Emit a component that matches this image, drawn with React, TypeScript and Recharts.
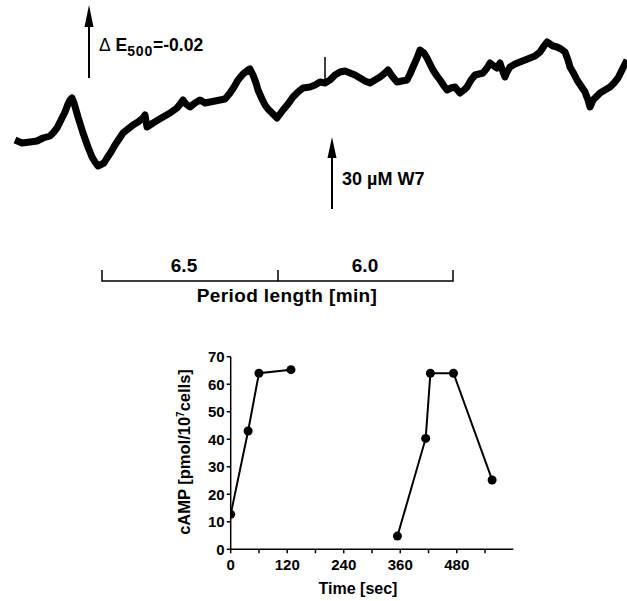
import { LineChart, Line, XAxis, YAxis } from "recharts"

// top trace: extinction at 500 nm (arbitrary units, higher = up), time in arbitrary units
const traceT = [
  15, 22, 30, 37, 43, 50, 53, 57, 60, 65, 68, 70, 72, 74, 78, 83, 88, 92, 95, 98, 100, 104, 107, 111, 115, 119, 123,
  128, 133, 138, 143, 145, 147, 150, 153, 158, 163, 170, 177, 181, 183, 186, 190, 195, 200, 205, 210, 215, 220, 225,
  230, 234, 238, 243, 248, 250, 253, 256, 258, 262, 265, 268, 272, 277, 280, 283, 288, 293, 298, 303, 310, 315, 320,
  325, 330, 335, 340, 345, 350, 355, 360, 365, 370, 375, 380, 385, 388, 392, 397, 402, 407, 410, 413, 417, 420, 424,
  427, 430, 433, 437, 440, 444, 447, 451, 455, 460, 464, 467, 471, 475, 479, 483, 487, 490, 494, 497, 500, 503, 505,
  507, 510, 515, 520, 525, 530, 535, 540, 544, 547, 550, 553, 557, 561, 565, 568, 570, 574, 577, 581, 585, 588, 590,
  593, 597, 600, 605, 610, 614, 618, 622, 627,
]
const traceE = [
  60, 57, 58, 59, 62, 64, 67, 72, 78, 88, 96, 100, 102, 97, 83, 67, 53, 43, 38, 34, 35, 37, 42, 48, 55, 61, 67,
  71, 75, 78, 82, 85, 73, 75, 77, 80, 83, 87, 92, 97, 100, 96, 93, 97, 100, 97, 98, 99, 100, 101,
  107, 113, 120, 126, 130, 131, 125, 117, 110, 101, 95, 91, 87, 82, 86, 90, 96, 103, 108, 112, 113, 115, 118,
  117, 120, 125, 128, 129, 127, 125, 122, 119, 117, 120, 123, 127, 130, 124, 118, 119, 120, 126, 133, 142, 150, 147,
  142, 136, 130, 124, 120, 114, 110, 112, 113, 107, 110, 113, 120, 125, 126, 127, 132, 137, 134, 132, 137, 128, 123,
  128, 133, 136, 138, 140, 142, 144, 148, 154, 158, 156, 154, 153, 151, 148, 140, 133, 126, 120, 114, 108, 100, 93,
  100, 104, 107, 110, 113, 117, 122, 130, 140,
]
// injection artefact (thin spike) on the trace
const spikeT = [325, 325]
const spikeE = [117, 143]

// bottom chart: cAMP vs time
const time1 = [0, 37, 60, 128]
const camp1 = [12.7, 43, 64, 65.3]
const time2 = [354, 414, 424, 473, 555]
const camp2 = [4.8, 40.3, 64, 64, 25.2]
const xTicks = [0, 60, 120, 180, 240, 300, 360, 420, 480, 540]
const yTicks = [0, 10, 20, 30, 40, 50, 60, 70]

const traceData: any[] = traceT.map((t, i) => ({ t, e: traceE[i] }))
spikeT.forEach((t, i) => traceData.push({ t, s: spikeE[i] }))
traceData.sort((a, b) => a.t - b.t)

const campData: any[] = [
  ...time1.map((t, i) => ({ t, a: camp1[i] })),
  ...time2.map((t, i) => ({ t, b: camp2[i] })),
]

const FONT = "'Liberation Sans', Arial, sans-serif"

const YLabel = ({ viewBox }: any) => {
  const cx = viewBox.x + 9
  const cy = viewBox.y + viewBox.height / 2 - 1
  return (
    <text x={cx} y={cy} transform={`rotate(-90 ${cx} ${cy})`} textAnchor="middle" fontFamily={FONT} fontWeight="bold" fontSize={16.5} fill="#000">
      cAMP [pmol/10
      <tspan fontSize={10} dy={-6}>7</tspan>
      <tspan dy={6}>cells]</tspan>
    </text>
  )
}

const XLabel = ({ viewBox }: any) => (
  <text x={viewBox.x + viewBox.width / 2 - 14} y={viewBox.y + 45} textAnchor="middle" fontFamily={FONT} fontWeight="bold" fontSize={16} fill="#000">
    Time [sec]
  </text>
)

export default function App() {
  const tickStyle = { fontFamily: FONT, fontWeight: "bold", fontSize: 15, fill: "#000" }
  const txt = { fontFamily: FONT, fontWeight: "bold" as const, fill: "#000" }
  return (
    <div style={{ position: "absolute", left: 0, top: 0, width: 627, height: 601, background: "#fff" }}>
      <div style={{ position: "absolute", left: 0, top: 0 }}>
        <LineChart width={627} height={200} data={traceData} margin={{ top: 0, right: 0, bottom: 0, left: 0 }}>
          <XAxis dataKey="t" type="number" domain={[0, 627]} hide />
          <YAxis type="number" domain={[0, 200]} hide />
          <Line dataKey="e" stroke="#000" strokeWidth={7} dot={false} activeDot={false} type="linear" strokeLinejoin="round" connectNulls isAnimationActive={false} />
          <Line dataKey="s" stroke="#000" strokeWidth={1.5} dot={false} activeDot={false} type="linear" connectNulls isAnimationActive={false} />
        </LineChart>
      </div>

      <div style={{ position: "absolute", left: 150, top: 340 }}>
        <LineChart width={380} height={261} data={campData} margin={{ top: 16.7, right: 16.7, bottom: 6.7, left: 30.7 }}>
          <XAxis
            dataKey="t"
            type="number"
            domain={[0, 600]}
            ticks={xTicks}
            tickFormatter={(v: number) => (v % 120 === 0 ? String(v) : "")}
            tick={tickStyle}
            tickSize={4}
            tickMargin={6}
            height={45}
            stroke="#000"
            strokeWidth={1.5}
            allowDataOverflow
            label={<XLabel />}
          />
          <YAxis
            type="number"
            domain={[0, 70]}
            ticks={yTicks}
            tick={tickStyle}
            tickSize={4}
            tickMargin={2}
            width={50}
            stroke="#000"
            strokeWidth={1.5}
            label={<YLabel />}
          />
          <Line dataKey="a" stroke="#000" strokeWidth={2} dot={{ r: 4.5, fill: "#000", stroke: "#000", strokeWidth: 0 }} activeDot={false} isAnimationActive={false} />
          <Line dataKey="b" stroke="#000" strokeWidth={2} dot={{ r: 4.5, fill: "#000", stroke: "#000", strokeWidth: 0 }} activeDot={false} isAnimationActive={false} />
        </LineChart>
      </div>

      <svg width={627} height={601} style={{ position: "absolute", left: 0, top: 0, pointerEvents: "none" }}>
        {/* delta E arrow */}
        <line x1={89} y1={20} x2={89} y2={78} stroke="#000" strokeWidth={2} />
        <polygon points="89,5 84.5,27 93.5,27" fill="#000" />
        <text x={99} y={51} fontSize={17.5} {...txt}>
          <tspan fontWeight="normal">Δ</tspan> E<tspan fontSize={14} dy={5} letterSpacing={0.8}>500</tspan>
          <tspan dy={-5}>=-0.02</tspan>
        </text>

        {/* W7 arrow */}
        <line x1={332} y1={150} x2={332} y2={209} stroke="#000" strokeWidth={2} />
        <polygon points="332,137 327.5,158 336.5,158" fill="#000" />
        <text x={342} y={185} fontSize={18} {...txt}>30 µM W7</text>

        {/* period scale */}
        <path d="M102,270 V281 H453 V270 M278,270 V281" stroke="#000" strokeWidth={1.5} fill="none" />
        <text x={184} y={272} textAnchor="middle" fontSize={19} {...txt}>6.5</text>
        <text x={365} y={272} textAnchor="middle" fontSize={19} {...txt}>6.0</text>
        <text x={287} y={302} textAnchor="middle" fontSize={19} letterSpacing={0.4} {...txt}>Period length [min]</text>
      </svg>
    </div>
  )
}
